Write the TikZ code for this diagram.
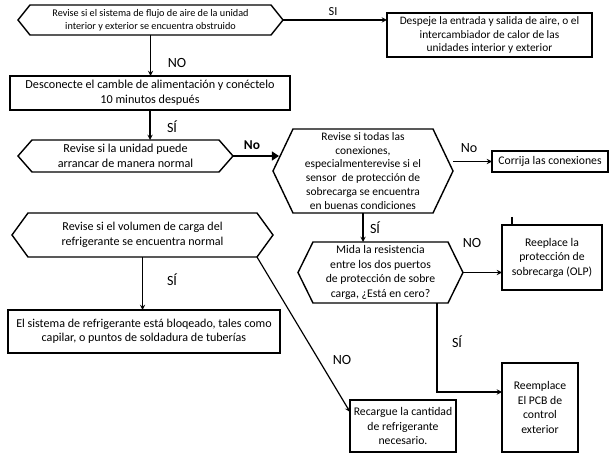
\documentclass[tikz,border=0pt]{standalone}
\usepackage{fontspec}
\setmainfont{Carlito}
\usepackage{tikz}
\usetikzlibrary{arrows.meta, positioning, calc}

\newcommand{\hexframe}[2]{%
  \draw[line width=1.2pt] (#1.west) -- ($(#1.north west)+(#2,0)$) -- ($(#1.north east)+(-#2,0)$) -- (#1.east) -- ($(#1.south east)+(-#2,0)$) -- ($(#1.south west)+(#2,0)$) -- cycle;}

\begin{document}
\begin{tikzpicture}[
  x=0.03cm, y=-0.03cm,
  process/.style={rectangle, draw=black, line width=1.2pt, inner sep=0pt, outer sep=0pt, align=center, font=\fontsize{10}{12.4}\selectfont},
  decision/.style={rectangle, inner sep=0pt, outer sep=0pt, align=center, font=\fontsize{10}{12.4}\selectfont},
  answer/.style={font=\fontsize{12}{14}\selectfont, inner sep=0pt},
  arrow/.style={line width=1pt,->,>=stealth},
  bigarrow/.style={line width=2.4pt,-{Triangle[length=6pt,width=7.5pt]}}
]
\useasboundingbox (0,0) rectangle (610,453);

\node (hex1) [decision, minimum width=7.95cm, minimum height=0.9cm, font=\fontsize{8.7}{11}\selectfont] at (150.5,20) {Revise si el sistema de flujo de aire de la unidad\\interior y exterior se encuentra obstruido};
\node (despeje) [process, minimum width=6.15cm, minimum height=1.32cm, font=\fontsize{9.7}{11.2}\selectfont] at (489.5,35) {Despeje la entrada y salida de aire, o el\\intercambiador de calor de las\\unidades interior y exterior};
\node (desconecte) [process, minimum width=8.4cm, minimum height=1.02cm, font=\fontsize{10.4}{12.6}\selectfont] at (150,93) {Desconecte el camble de alimentación y conéctelo\\10 minutos después};
\node (hex2) [decision, minimum width=6.45cm, minimum height=0.96cm, font=\fontsize{10.4}{12.4}\selectfont] at (125.5,156) {Revise si la unidad puede\\arrancar de manera normal};
\node (hex3) [decision, minimum width=5.4cm, minimum height=2.52cm, font=\fontsize{9.8}{11.9}\selectfont] at (363,171) {Revise si todas las\\conexiones,\\especialmenterevise si el\\sensor~ de protección de\\sobrecarga se encuentra\\en buenas condiciones};
\node (corrija) [process, minimum width=3.48cm, minimum height=0.63cm] at (550,161.5) {Corrija las conexiones};
\node (hex4) [decision, minimum width=4.95cm, minimum height=1.83cm] at (380.5,272.5) {Mida la resistencia\\entre los dos puertos\\de protección de sobre\\carga, ¿Está en cero?};
\node (olp) [process, minimum width=3cm, minimum height=1.95cm] at (552,257.5) {Reeplace la\\protección de\\sobrecarga (OLP)};
\node (pcb) [process, minimum width=2.28cm, minimum height=2.67cm] at (540,407.5) {Reemplace\\El PCB de\\control\\exterior};
\node (hex5) [decision, minimum width=7.83cm, minimum height=1.32cm, font=\fontsize{10.3}{12.4}\selectfont] at (142.5,235) {Revise si el volumen de carga del\\refrigerante se encuentra normal};
\node (bloqueado) [process, minimum width=8.16cm, minimum height=1.29cm, font=\fontsize{10.3}{12.4}\selectfont] at (144,331.5) {El sistema de refrigerante está bloqeado, tales como\\capilar, o puntos de soldadura de tuberías};
\node (recargue) [process, minimum width=3.18cm, minimum height=1.56cm] at (403,426) {Recargue la cantidad\\de refrigerante\\necesario.};

\hexframe{hex1}{12}
\hexframe{hex2}{14}
\hexframe{hex3}{20}
\hexframe{hex4}{15}
\hexframe{hex5}{16}

\coordinate (hex5corner) at ($(hex5.south east)+(-16,0)$);
\coordinate (bend) at (437,392);
\coordinate (stub) at (512,217);

\draw [arrow] (hex1.east) -- (hex1.east -| despeje.west);
\draw [arrow] (hex1.south) -- (hex1.south |- desconecte.north);
\draw [arrow] (desconecte.south) -- (desconecte.south |- hex2.north);
\draw [bigarrow] (hex2.east) -- ($(hex2.east -| hex3.west)+(6,0)$);
\draw [arrow] (corrija.west -| hex3.east) -- (corrija.west);
\draw [arrow] (hex3.south) -- (hex3.south |- hex4.north);
\draw [arrow] (hex4.east) -- (hex4.east -| olp.west);
\draw [line width=1.2pt] (stub) -- (stub |- olp.north);
\draw [arrow] (bend |- hex4.south) -- (bend) -- (bend -| pcb.west);
\draw [arrow] (hex5.south) -- (hex5.south |- bloqueado.north);
\draw [arrow] (hex5corner) -- ($(recargue.north west)!0.23!(recargue.south west)$);

\node (si1) [answer, font=\fontsize{10.5}{12}\selectfont] at (333,12) {SI};
\node (no1) [answer] at (177,63) {NO};
\node (si2) [answer] at (172,127) {SÍ};
\node (no2) [answer, font=\bfseries\fontsize{11.5}{13}\selectfont] at (252,145) {No};
\node (no3) [answer] at (469,148) {No};
\node (si3) [answer] at (375,228) {SÍ};
\node (no4) [answer] at (472,243) {NO};
\node (si4) [answer] at (457,342) {SÍ};
\node (si5) [answer] at (172,280) {SÍ};
\node (no5) [answer] at (342,360) {NO};
\end{tikzpicture}
\end{document}
